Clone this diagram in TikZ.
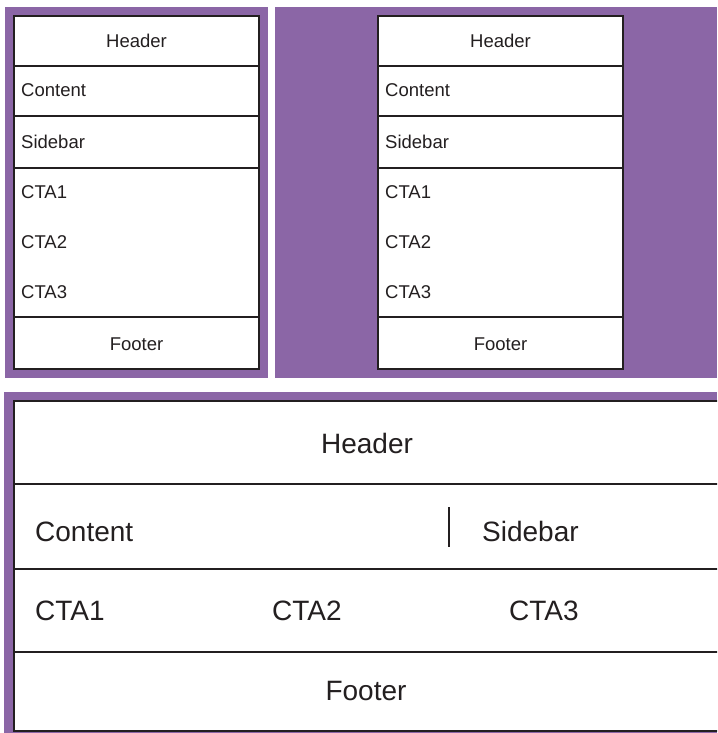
\documentclass[tikz,border=0pt]{standalone}
\usepackage{fontspec}
\setmainfont{Liberation Sans}
\definecolor{panelpurple}{RGB}{139,102,166}
\definecolor{ink}{RGB}{35,31,32}
\begin{document}
\begin{tikzpicture}[x=1pt,y=-1pt,
  panel/.style={fill=panelpurple,draw=none},
  page/.style={fill=white,draw=ink,line width=2.4pt},
  rule/.style={draw=ink,line width=2.2pt},
  small/.style={inner sep=0pt,text=ink,font=\fontsize{18.5}{20}\selectfont},
  large/.style={inner sep=0pt,text=ink,font=\fontsize{28}{30}\selectfont}]
  \fill[white] (0,0) rectangle (717,733);
  \useasboundingbox (0,0) rectangle (717,733);
  \clip (0,0) rectangle (717,733);

  % narrow layout, left column
  \fill[panel] (5,7) rectangle (268,378);
  \draw[page] (14,16) rectangle (259,369);
  \foreach \y in {66,116,168,317} \draw[rule] (14,\y) -- (259,\y);
  \node[small,anchor=base] (lh) at (136.5,48) {Header};
  \node[small,anchor=base west] (lc) at (21,97) {Content};
  \node[small,anchor=base west] (ls) at (21,148) {Sidebar};
  \node[small,anchor=base west] (l1) at (21,198) {CTA1};
  \node[small,anchor=base west] (l2) at (21,248) {CTA2};
  \node[small,anchor=base west] (l3) at (21,298) {CTA3};
  \node[small,anchor=base] (lf) at (136.5,350) {Footer};

  % narrow layout, right column
  \fill[panel] (275,7) rectangle (717,378);
  \draw[page] (378,16) rectangle (623,369);
  \foreach \y in {66,116,168,317} \draw[rule] (378,\y) -- (623,\y);
  \node[small,anchor=base] (rh) at (500.5,48) {Header};
  \node[small,anchor=base west] (rc) at (385,97) {Content};
  \node[small,anchor=base west] (rs) at (385,148) {Sidebar};
  \node[small,anchor=base west] (r1) at (385,198) {CTA1};
  \node[small,anchor=base west] (r2) at (385,248) {CTA2};
  \node[small,anchor=base west] (r3) at (385,298) {CTA3};
  \node[small,anchor=base] (rf) at (500.5,350) {Footer};

  % wide layout
  \fill[panel] (4,392) rectangle (717,733);
  \draw[page] (14,401) rectangle (740,731);
  \foreach \y in {484,569,652} \draw[rule] (14,\y) -- (740,\y);
  \draw[draw=ink,line width=1.6pt] (449,507) -- (449,547);
  \node[large,anchor=base] (wh) at (367,453) {Header};
  \node[large,anchor=base west] (wc) at (35,541) {Content};
  \node[large,anchor=base west] (ws) at (482,541) {Sidebar};
  \node[large,anchor=base west] (w1) at (35,620) {CTA1};
  \node[large,anchor=base west] (w2) at (272,620) {CTA2};
  \node[large,anchor=base west] (w3) at (509,620) {CTA3};
  \node[large,anchor=base] (wf) at (366,700) {Footer};
\end{tikzpicture}
\end{document}
